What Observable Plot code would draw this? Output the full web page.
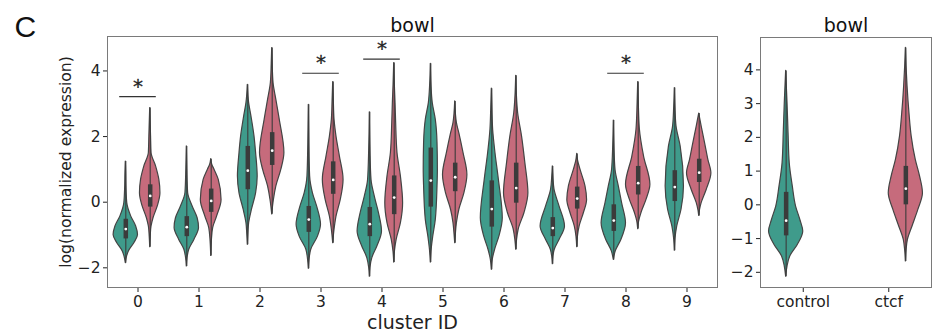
<!DOCTYPE html>
<html>
<head>
<meta charset="utf-8">
<script src="https://cdn.jsdelivr.net/npm/d3@7"></script>
<script src="https://cdn.jsdelivr.net/npm/@observablehq/plot@0.6"></script>
<style>
  body { margin: 0; background: #fff; }
  #wrap { position: relative; width: 933px; height: 335px; overflow: hidden; background: #fff; }
  #left { position: absolute; left: 0; top: 0; }
  #right { position: absolute; left: 725px; top: 0; }
</style>
</head>
<body>
<div id="wrap"><div id="left"></div><div id="right"></div></div>
<script>
// ---------- data ----------
const panelLetter = "C";
const geneName = "bowl";
const clusterIds = ["0", "1", "2", "3", "4", "5", "6", "7", "8", "9"];
const groups = ["control", "ctcf"];
const groupColors = ["#3f9b8b", "#c66b7c"];

// violin outlines per cluster: [value, relative density] from top tip to bottom tip
const controlProfiles = [
  [[1.24,0],[0.9,0.03],[0.48,0.05],[-0.03,0.12],[-0.44,0.45],[-0.74,0.85],[-1.0,1.0],[-1.25,0.7],[-1.5,0.25],[-1.71,0.07],[-1.86,0]],
  [[1.70,0],[1.0,0.04],[0.28,0.11],[-0.13,0.48],[-0.49,0.89],[-0.79,1.0],[-1.15,0.62],[-1.45,0.2],[-1.7,0.06],[-1.96,0]],
  [[3.58,0],[3.02,0.11],[2.61,0.3],[2.0,0.55],[1.5,0.68],[0.78,0.81],[0.27,0.68],[-0.23,0.34],[-0.64,0.11],[-1.0,0.04],[-1.30,0]],
  [[2.97,0],[1.8,0.04],[0.78,0.11],[0.27,0.34],[-0.13,0.68],[-0.69,1.0],[-1.05,0.75],[-1.45,0.2],[-1.75,0.06],[-2.03,0]],
  [[2.74,0],[1.6,0.05],[0.68,0.14],[0.17,0.41],[-0.33,0.75],[-0.89,1.0],[-1.35,0.62],[-1.71,0.2],[-2.0,0.05],[-2.27,0]],
  [[4.22,0],[3.6,0.05],[3.02,0.16],[2.51,0.41],[1.8,0.55],[0.99,0.58],[0.48,0.55],[-0.54,0.41],[-1.05,0.2],[-1.45,0.07],[-1.84,0]],
  [[3.46,0],[2.8,0.05],[2.21,0.11],[1.5,0.3],[0.68,0.58],[-0.49,0.9],[-1.05,0.62],[-1.45,0.27],[-1.75,0.08],[-2.06,0]],
  [[1.09,0],[0.75,0.05],[0.38,0.14],[-0.13,0.55],[-0.74,1.0],[-1.15,0.55],[-1.45,0.16],[-1.65,0.05],[-1.89,0]],
  [[2.49,0],[1.7,0.05],[0.99,0.14],[0.48,0.41],[-0.03,0.68],[-0.64,1.0],[-1.15,0.62],[-1.5,0.16],[-1.76,0]],
  [[3.48,0],[2.9,0.05],[2.31,0.14],[1.7,0.48],[0.48,0.75],[-0.23,0.55],[-0.74,0.2],[-1.1,0.06],[-1.48,0]]
];
const ctcfProfiles = [
  [[2.87,0],[2.0,0.07],[1.5,0.11],[1.09,0.48],[0.68,0.75],[0.27,0.84],[-0.13,0.62],[-0.49,0.27],[-0.74,0.11],[-1.05,0.04],[-1.37,0]],
  [[1.31,0],[1.15,0.08],[0.99,0.27],[0.68,0.62],[0.07,0.85],[-0.44,0.48],[-0.79,0.16],[-1.2,0.05],[-1.64,0]],
  [[4.70,0],[4.2,0.04],[3.63,0.11],[3.12,0.34],[2.51,0.62],[1.5,1.0],[0.99,0.75],[0.48,0.34],[0.07,0.14],[-0.37,0]],
  [[3.66,0],[3.1,0.05],[2.51,0.11],[2.0,0.27],[1.39,0.55],[0.68,0.85],[0.07,0.62],[-0.44,0.27],[-0.84,0.11],[-1.25,0]],
  [[4.24,0],[3.6,0.05],[3.02,0.11],[2.41,0.16],[1.5,0.27],[0.78,0.55],[-0.03,0.73],[-0.64,0.55],[-1.15,0.2],[-1.5,0.06],[-1.84,0]],
  [[3.07,0],[2.41,0.14],[2.1,0.34],[1.5,0.68],[0.83,1.0],[0.27,0.75],[-0.23,0.34],[-0.64,0.14],[-1.0,0.05],[-1.25,0]],
  [[3.85,0],[3.3,0.05],[2.71,0.16],[2.0,0.48],[1.19,0.75],[0.27,1.0],[-0.33,0.68],[-0.84,0.2],[-1.15,0.07],[-1.45,0]],
  [[1.47,0],[1.25,0.08],[0.99,0.27],[0.48,0.68],[0.07,0.81],[-0.33,0.55],[-0.74,0.2],[-1.05,0.06],[-1.37,0]],
  [[3.66,0],[3.0,0.05],[2.21,0.14],[1.39,0.48],[0.53,1.0],[0.07,0.68],[-0.33,0.27],[-0.6,0.07],[-0.82,0]],
  [[2.70,0],[2.31,0.2],[1.8,0.48],[1.29,0.75],[0.88,1.0],[0.38,0.62],[-0.03,0.2],[-0.25,0.06],[-0.42,0]]
];
// inner box statistics per cluster
const controlQ1     = [-1.12, -1.05, 0.38, -0.92, -1.05, -0.15, -0.76, -1.05, -0.89, 0.02];
const controlMedian = [-0.82, -0.76, 0.96, -0.53, -0.67, 0.66, -0.21, -0.79, -0.56, 0.46];
const controlQ3     = [-0.52, -0.44, 1.70, -0.13, -0.16, 1.65, 0.65, -0.47, -0.08, 0.96];
const ctcfQ1        = [-0.15, -0.31, 1.12, 0.24, -0.38, 0.32, -0.03, -0.21, 0.22, 0.60];
const ctcfMedian    = [0.19, 0.04, 1.57, 0.68, 0.14, 0.76, 0.43, 0.11, 0.58, 0.90];
const ctcfQ3        = [0.53, 0.40, 2.12, 1.23, 0.80, 1.19, 1.19, 0.46, 1.09, 1.31];

// significance markers
const sigClusters = ["0", "3", "4", "8"];
const sigLevel = [3.22, 3.93, 4.36, 3.93];
const sigSymbol = "*";

// pooled panel
const pooledProfiles = [
  [[3.97,0],[3.5,0.04],[3.02,0.08],[2.13,0.14],[1.23,0.21],[0.54,0.39],[-0.05,0.58],[-0.45,0.83],[-0.79,1.0],[-1.19,0.68],[-1.53,0.24],[-1.83,0.08],[-2.13,0]],
  [[4.65,0],[4.1,0.04],[3.51,0.1],[2.72,0.21],[2.03,0.34],[1.33,0.58],[0.84,0.83],[0.34,1.0],[-0.15,0.73],[-0.64,0.39],[-1.04,0.12],[-1.35,0.04],[-1.68,0]]
];
const pooledQ1 = [-0.92, 0.0];
const pooledMedian = [-0.47, 0.48];
const pooledQ3 = [0.37, 1.14];

const leftYTicks = [-2, 0, 2, 4];
const rightYTicks = [-2, -1, 0, 1, 2, 3, 4];
const xLabel = "cluster ID";
const yLabel = "log(normalized expression)";

// ---------- drawing ----------
const HALF = 0.2;      // half width of a violin at full density (x units)
const DODGE = 0.2;     // offset of each hue level from the category centre
const edge = "#444";
const boxColor = "#3b3b3b";
const font = "'DejaVu Sans', sans-serif";

function violinRows(profiles, centers) {
  const rows = [];
  profiles.forEach((prof, k) => {
    prof.forEach(([v, d]) => rows.push({k, v, x1: centers[k] - d * HALF, x2: centers[k] + d * HALF}));
  });
  return rows;
}
function boxRows(profiles, centers, q1, med, q3) {
  return profiles.map((prof, k) => ({
    x: centers[k], lo: prof[prof.length - 1][0], hi: prof[0][0], q1: q1[k], med: med[k], q3: q3[k]
  }));
}
function violinMarks(profiles, centers, q1, med, q3, color) {
  const boxes = boxRows(profiles, centers, q1, med, q3);
  return [
    Plot.areaX(violinRows(profiles, centers), {x1: "x1", x2: "x2", y: "v", z: "k", fill: color, stroke: edge, strokeWidth: 1.2, curve: "monotone-y"}),
    Plot.ruleX(boxes, {x: "x", y1: "lo", y2: "hi", stroke: boxColor, strokeWidth: 1.1}),
    Plot.ruleX(boxes, {x: "x", y1: "q1", y2: "q3", stroke: boxColor, strokeWidth: 4.5}),
    Plot.dot(boxes, {x: "x", y: "med", r: 1.4, fill: "white", stroke: null})
  ];
}

const clusterPos = clusterIds.map((_, i) => i);
const ctrlCenters = clusterPos.map(p => p - DODGE);
const ctcfCenters = clusterPos.map(p => p + DODGE);
const sigRows = sigClusters.map((c, i) => ({x: clusterIds.indexOf(c), y: sigLevel[i]}));

const left = Plot.plot({
  width: 725, height: 335,
  marginLeft: 107, marginRight: 8, marginTop: 36, marginBottom: 48,
  style: {fontFamily: font, fontSize: "15.5px", color: "#222", background: "white", overflow: "visible"},
  x: {domain: [-0.5, 9.5], ticks: clusterPos, tickFormat: i => clusterIds[i], tickSize: 5, tickPadding: 3, label: null},
  y: {domain: [-2.6, 5.05], ticks: leftYTicks, tickSize: 4, tickPadding: 3, label: null},
  marks: [
    ...violinMarks(controlProfiles, ctrlCenters, controlQ1, controlMedian, controlQ3, groupColors[0]),
    ...violinMarks(ctcfProfiles, ctcfCenters, ctcfQ1, ctcfMedian, ctcfQ3, groupColors[1]),
    Plot.ruleY(sigRows, {y: "y", x1: d => d.x - 0.3, x2: d => d.x + 0.3, stroke: "#333", strokeWidth: 1.2}),
    Plot.text(sigRows, {x: "x", y: "y", text: () => sigSymbol, dy: -4, lineAnchor: "bottom", fontSize: 20, fontFamily: "DejaVu Sans", fill: "#222", stroke: "#222", strokeWidth: 0.3}),
    Plot.frame({stroke: "#7a7a7a"}),
    Plot.text([geneName], {frameAnchor: "top", textAnchor: "middle", dy: -5, lineAnchor: "bottom", fontSize: 19, fill: "#111"}),
    Plot.text([xLabel], {frameAnchor: "bottom", textAnchor: "middle", dy: 41, lineAnchor: "bottom", fontSize: 19, fill: "#222"}),
    Plot.text([yLabel], {frameAnchor: "left", textAnchor: "middle", lineAnchor: "middle", dx: -42, rotate: -90, fontSize: 15.6, fill: "#222"}),
    Plot.text([panelLetter], {frameAnchor: "top-left", dx: -93, dy: 0, textAnchor: "start", lineAnchor: "bottom", fontSize: 30, fontFamily: "Liberation Sans, Arial, sans-serif", fill: "#111"})
  ]
});
document.getElementById("left").appendChild(left);

const right = Plot.plot({
  width: 208, height: 335,
  marginLeft: 35, marginRight: 2, marginTop: 37, marginBottom: 48,
  style: {fontFamily: font, fontSize: "15.5px", color: "#222", background: "white", overflow: "visible"},
  x: {domain: [-0.5, 1.5], ticks: [0, 1], tickFormat: i => groups[i], tickSize: 5, tickPadding: 3, label: null},
  y: {domain: [-2.45, 4.96], ticks: rightYTicks, tickSize: 4, tickPadding: 3, label: null},
  marks: [
    ...violinMarks([pooledProfiles[0]], [0 - DODGE], [pooledQ1[0]], [pooledMedian[0]], [pooledQ3[0]], groupColors[0]),
    ...violinMarks([pooledProfiles[1]], [1 + DODGE], [pooledQ1[1]], [pooledMedian[1]], [pooledQ3[1]], groupColors[1]),
    Plot.frame({stroke: "#7a7a7a"}),
    Plot.text([geneName], {frameAnchor: "top", textAnchor: "middle", dy: -6, lineAnchor: "bottom", fontSize: 19, fill: "#111"})
  ]
});
document.getElementById("right").appendChild(right);
</script>
</body>
</html>
